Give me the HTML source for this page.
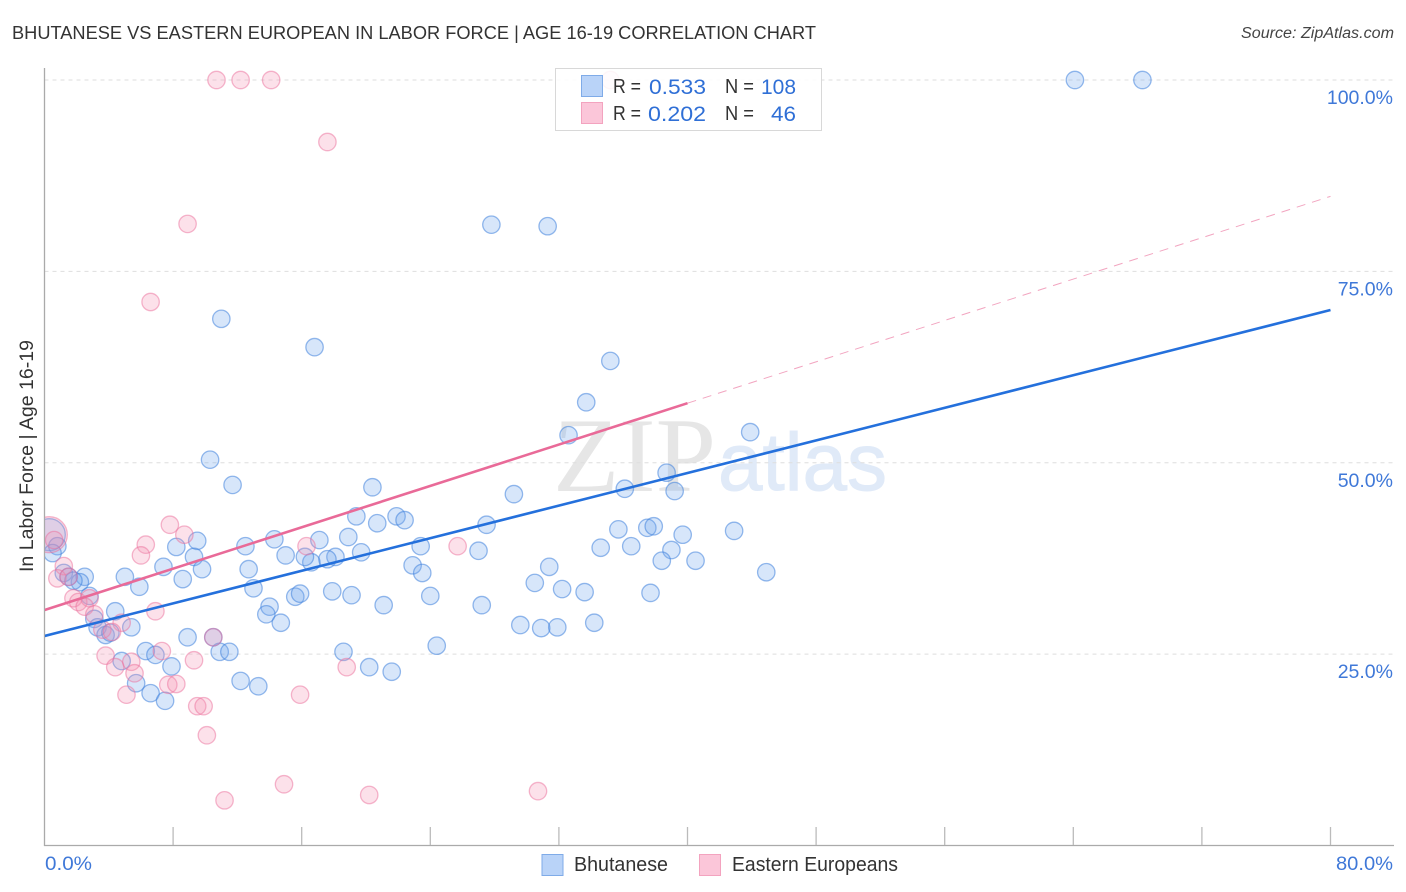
<!DOCTYPE html>
<html lang="en">
<head>
<meta charset="utf-8">
<title>Bhutanese vs Eastern European in Labor Force | Age 16-19 Correlation Chart</title>
<style>
html,body{margin:0;padding:0;background:#fff;}
svg{display:block;font-family:"Liberation Sans",sans-serif;}
</style>
</head>
<body>
<svg id="chart" width="1406" height="892" viewBox="0 0 1406 892" xmlns="http://www.w3.org/2000/svg">
  <defs>
    <clipPath id="plot-clip"><rect x="45" y="60" width="1349" height="786"/></clipPath>
  </defs>
  <text x="12" y="39" font-size="18.5" fill="#333" textLength="804" lengthAdjust="spacingAndGlyphs">BHUTANESE VS EASTERN EUROPEAN IN LABOR FORCE | AGE 16-19 CORRELATION CHART</text>
  <text x="1394" y="38" font-size="15.5" font-style="italic" fill="#444" text-anchor="end" textLength="153" lengthAdjust="spacingAndGlyphs">Source: ZipAtlas.com</text>
  <text transform="translate(33,456) rotate(-90)" font-size="19" fill="#333" text-anchor="middle" textLength="232" lengthAdjust="spacingAndGlyphs">In Labor Force | Age 16-19</text>

  <g>
    <text x="553" y="491" font-family="'Liberation Serif',serif" font-size="106" fill="#e6e6e6" textLength="163" lengthAdjust="spacingAndGlyphs">ZIP</text>
    <text x="718" y="490" font-size="82" fill="#e0eaf8" stroke="#e0eaf8" stroke-width="1" textLength="169" lengthAdjust="spacingAndGlyphs">atlas</text>
  </g>

  <g id="grid"></g>
  <g id="axes"></g>
  <g clip-path="url(#plot-clip)">
    <g id="points-blue"></g>
    <g id="points-pink"></g>
    <g id="trends"></g>
  </g>

  <g>
    <rect x="555.5" y="68.5" width="266" height="62" fill="#fff" fill-opacity="0.87" stroke="#d8d8d8" stroke-width="1"/>
    <rect x="581.5" y="75.5" width="21" height="21" fill="#b9d3f8" stroke="#7fabe8"/>
    <rect x="581.5" y="102.5" width="21" height="21" fill="#fbc6d9" stroke="#f3a3bf"/>
    <g font-size="20" fill="#333">
      <text x="613" y="93" textLength="28" lengthAdjust="spacingAndGlyphs">R =</text>
      <text x="725" y="93" textLength="29" lengthAdjust="spacingAndGlyphs">N =</text>
      <text x="613" y="120" textLength="28" lengthAdjust="spacingAndGlyphs">R =</text>
      <text x="725" y="120" textLength="29" lengthAdjust="spacingAndGlyphs">N =</text>
    </g>
    <g font-size="21" fill="#2f6fd6">
      <text x="649" y="94" textLength="57" lengthAdjust="spacingAndGlyphs">0.533</text>
      <text x="761" y="94" textLength="35" lengthAdjust="spacingAndGlyphs">108</text>
      <text x="648" y="121" textLength="58" lengthAdjust="spacingAndGlyphs">0.202</text>
      <text x="771" y="121" textLength="25" lengthAdjust="spacingAndGlyphs">46</text>
    </g>
  </g>

  <g>
    <rect x="542" y="854.5" width="21" height="21" fill="#b9d3f8" stroke="#7fabe8"/>
    <text x="574" y="871" font-size="20" fill="#333" textLength="94" lengthAdjust="spacingAndGlyphs">Bhutanese</text>
    <rect x="699.5" y="854.5" width="21" height="21" fill="#fbc6d9" stroke="#f3a3bf"/>
    <text x="732" y="871" font-size="20" fill="#333" textLength="166" lengthAdjust="spacingAndGlyphs">Eastern Europeans</text>
  </g>
</svg>

<script>
const bhutaneseX = [0.3,0.8,0.5,1.2,1.5,2.5,2.2,1.8,2.8,4.4,3.1,3.3,3.8,4.1,5.4,5.0,5.9,7.4,8.2,9.5,9.3,9.8,8.6,12.5,12.7,13.0,14.3,15.0,14.0,13.8,14.7,8.9,10.5,10.9,11.5,6.3,6.9,4.8,7.9,5.7,6.6,7.5,12.2,13.3,15.6,15.9,64.1,68.3,27.8,31.3,11.0,16.8,35.2,33.7,32.6,43.9,10.3,38.7,11.7,20.4,36.1,39.2,29.2,19.4,21.9,22.4,20.7,27.5,35.7,37.5,37.9,42.9,39.7,18.9,17.1,23.4,34.6,36.5,39.0,27.0,19.7,18.1,17.6,16.6,16.2,22.9,38.4,40.5,31.4,23.5,44.9,30.5,17.9,32.2,33.6,24.0,37.7,19.1,21.1,27.2,34.2,29.6,30.9,31.9,24.4,18.6,20.2,21.6];
const bhutaneseY = [40.6,39.1,38.2,35.6,35.1,35.1,34.4,34.6,32.6,30.6,29.6,28.5,27.5,27.8,28.5,35.1,33.8,36.4,39.0,39.8,37.7,36.1,34.8,39.1,36.1,33.6,40.0,37.9,31.2,30.2,29.1,27.2,27.2,25.3,25.3,25.4,24.9,24.1,23.4,21.2,19.9,18.9,21.5,20.8,32.5,32.9,100,100,81.1,80.9,68.8,65.1,63.3,57.9,53.6,54.0,50.4,48.7,47.1,46.8,46.6,46.3,45.9,43.0,43.0,42.5,42.1,41.9,41.3,41.5,41.7,41.1,40.6,40.3,39.9,39.1,38.9,39.1,38.6,38.5,38.3,37.7,37.4,37.0,37.7,36.6,37.2,37.2,36.4,35.6,35.7,34.3,33.2,33.5,33.1,32.6,33.0,32.7,31.4,31.4,29.1,28.8,28.4,28.5,26.1,25.3,23.3,22.7];
const easternX = [0.3,0.6,7.8,8.7,6.3,6.0,1.2,0.8,1.5,1.8,2.1,2.8,2.5,3.1,6.9,4.8,3.6,4.2,7.3,9.3,3.8,5.4,4.4,5.6,5.1,7.7,8.2,9.5,9.9,10.1,10.5,15.9,10.7,12.2,14.1,17.6,8.9,6.6,11.2,14.9,20.2,30.7,18.8,25.7,16.3,35.2];
const easternY = [40.6,39.9,41.9,40.6,39.3,37.9,36.5,34.9,35.1,32.3,31.8,32.3,31.2,30.2,30.6,29.1,28.2,27.9,25.4,24.2,24.8,24.0,23.3,22.5,19.7,21.0,21.1,18.2,18.2,14.4,27.2,19.7,100,100,100,91.9,81.2,71.0,5.9,8.0,6.6,7.1,23.3,39.1,39.1,100];
const xTickValues = [0,8,16,24,32,40,48,56,64,72,80];
const yGridValues = [25,50,75,100];
const yTickLabels = ["25.0%","50.0%","75.0%","100.0%"];
const xEndLabels = ["0.0%","80.0%"];
const bhutaneseTrend = [27.37,69.95];
const easternTrend = [30.76,84.8];
const trendXRange = [0,80];
const easternSolidEndX = 40;

const NS = 'http://www.w3.org/2000/svg';
function xScale(v){ return 44.5 + v * 16.075; }
function yScale(v){ return 845.5 - v * 7.655; }
function make(parent, tag, attrs){
  const el = document.createElementNS(NS, tag);
  for (const k in attrs) el.setAttribute(k, attrs[k]);
  parent.appendChild(el);
  return el;
}
function lineValue(trend, x){
  return trend[0] + (trend[1] - trend[0]) * (x - trendXRange[0]) / (trendXRange[1] - trendXRange[0]);
}

const gridGroup = document.getElementById('grid');
yGridValues.forEach(function(v){
  const gl = make(gridGroup, 'line', {x1:44.5, x2:1394, y1:yScale(v), y2:yScale(v), stroke:'#dedede', 'stroke-width':1, 'stroke-dasharray':'4 4'});
  
  
});

const axesGroup = document.getElementById('axes');
const yAxis = make(axesGroup, 'line', {x1:44.5, x2:44.5, y1:68, y2:846, stroke:'#aaa', 'stroke-width':1.3});


const xAxis = make(axesGroup, 'line', {x1:44, x2:1394, y1:845.5, y2:845.5, stroke:'#aaa', 'stroke-width':1.3});


xTickValues.slice(1).forEach(function(v){
  const t = make(axesGroup, 'line', {x1:xScale(v), x2:xScale(v), y1:827, y2:845, stroke:'#bbb', 'stroke-width':1.3});
  
  
});
yGridValues.forEach(function(v, i){
  const lb = make(axesGroup, 'text', {x:1393, y:yScale(v) + 24, 'font-size':19.5, fill:'#3f78d8', 'text-anchor':'end'});
  lb.textContent = yTickLabels[i];
  
  
});
const xLabelStart = make(axesGroup, 'text', {x:45, y:870, 'font-size':19.5, fill:'#3f78d8', textLength:47, lengthAdjust:'spacingAndGlyphs'});
xLabelStart.textContent = xEndLabels[0];


const xLabelEnd = make(axesGroup, 'text', {x:1336, y:870, 'font-size':19.5, fill:'#3f78d8', textLength:57, lengthAdjust:'spacingAndGlyphs'});
xLabelEnd.textContent = xEndLabels[1];



const blueGroup = document.getElementById('points-blue');
bhutaneseX.forEach(function(v, i){
  const c = make(blueGroup, 'circle', {cx:xScale(v), cy:yScale(bhutaneseY[i]), r:i === 0 ? 16 : 8.7, fill:'#6fa5ec', 'fill-opacity':0.28, stroke:'#3f82dc', 'stroke-opacity':0.55, 'stroke-width':1.3});
  
  
});
const pinkGroup = document.getElementById('points-pink');
easternX.forEach(function(v, i){
  const c = make(pinkGroup, 'circle', {cx:xScale(v), cy:yScale(easternY[i]), r:i === 0 ? 18 : 8.7, fill:'#f590b2', 'fill-opacity':0.27, stroke:'#ec6f9b', 'stroke-opacity':0.5, 'stroke-width':1.3});
  
  
});

const trendGroup = document.getElementById('trends');
const blueLine = make(trendGroup, 'line', {x1:xScale(trendXRange[0]), y1:yScale(bhutaneseTrend[0]), x2:xScale(trendXRange[1]), y2:yScale(bhutaneseTrend[1]), stroke:'#2470dc', 'stroke-width':2.6});


const pinkLine = make(trendGroup, 'line', {x1:xScale(trendXRange[0]), y1:yScale(easternTrend[0]), x2:xScale(easternSolidEndX), y2:yScale(lineValue(easternTrend, easternSolidEndX)), stroke:'#e96a98', 'stroke-width':2.6});


const pinkDash = make(trendGroup, 'line', {x1:xScale(easternSolidEndX), y1:yScale(lineValue(easternTrend, easternSolidEndX)), x2:xScale(trendXRange[1]), y2:yScale(easternTrend[1]), stroke:'#f2a5c0', 'stroke-width':1, 'stroke-dasharray':'9 7'});


</script>
</body>
</html>
